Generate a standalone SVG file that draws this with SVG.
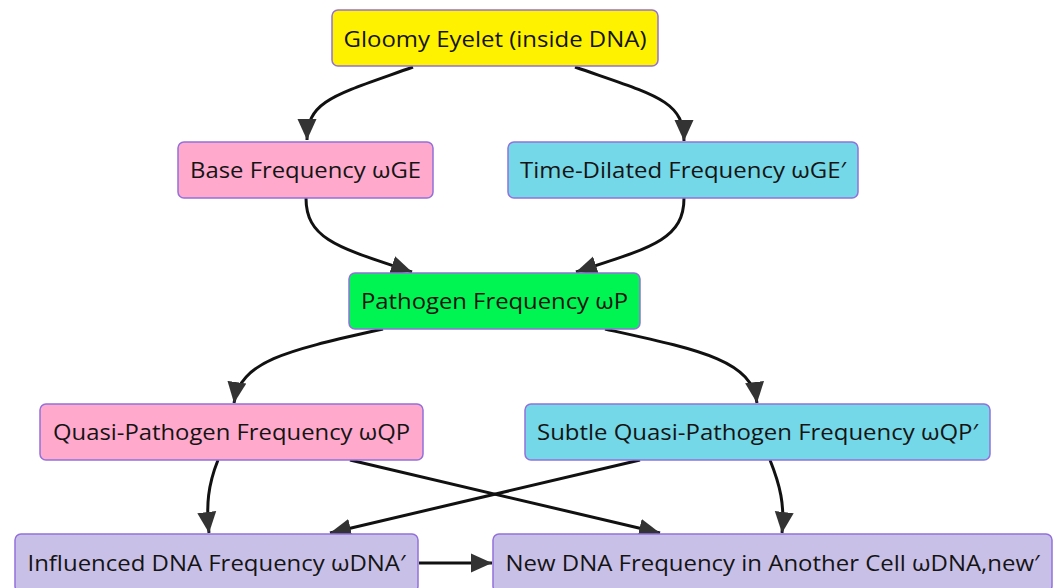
<svg xmlns="http://www.w3.org/2000/svg" width="1056" height="588" viewBox="0 0 1056 588">
  <style>
    .node rect { stroke: #9370DB; stroke-width: 1.5; }
    .node text { font-family: "Open Sans", "Noto Sans", sans-serif; font-size: 22px; fill: #141414; text-anchor: middle; }
    .edge { fill: none; stroke: #111; stroke-width: 3; marker-end: url(#arrow); }
  </style>
  <defs>
    <marker id="arrow" markerUnits="userSpaceOnUse" markerWidth="22" markerHeight="22" viewBox="0 0 22 22" refX="21" refY="11" orient="auto">
      <path d="M0,1.5 L21,11 L0,20.5 Z" fill="#333"/>
    </marker>
  </defs>
  <rect width="1056" height="588" fill="#ffffff"/>

  <g id="connectors">
    <path class="edge" d="M413,67 C335,95 307,100 307,140"/>
    <path class="edge" d="M575,67 C655,95 684,100 684,141"/>
    <path class="edge" d="M306,198 C306,240 340,248 412,272"/>
    <path class="edge" d="M684,198 C684,240 650,248 576,272"/>
    <path class="edge" d="M383,329 C290,350 240,360 234,403"/>
    <path class="edge" d="M605,329 C700,350 752,360 757,403"/>
    <path class="edge" d="M218,460 C208,485 206,505 209,533"/>
    <path class="edge" d="M350,460 L660,533"/>
    <path class="edge" d="M640,460 L330,533"/>
    <path class="edge" d="M770,460 C780,485 785,505 782,533"/>
    <path class="edge" d="M419,563 L492,563"/>
  </g>

  <g id="gloomy" class="node">
    <rect x="332" y="10" width="326" height="56" rx="6" fill="#FFF200"/>
    <text x="495" y="47" textLength="303" lengthAdjust="spacingAndGlyphs">Gloomy Eyelet (inside DNA)</text>
  </g>
  <g id="base" class="node">
    <rect x="178" y="142" width="255" height="56" rx="6" fill="#FFAACC"/>
    <text x="305.5" y="178" textLength="231" lengthAdjust="spacingAndGlyphs">Base Frequency ωGE</text>
  </g>
  <g id="timedilated" class="node">
    <rect x="508" y="142" width="350" height="56" rx="6" fill="#74D8E8"/>
    <text x="683" y="178" textLength="326" lengthAdjust="spacingAndGlyphs">Time-Dilated Frequency ωGE′</text>
  </g>
  <g id="pathogen" class="node">
    <rect x="349" y="273" width="291" height="56" rx="6" fill="#00F552"/>
    <text x="494.5" y="309" textLength="267" lengthAdjust="spacingAndGlyphs">Pathogen Frequency ωP</text>
  </g>
  <g id="quasi" class="node">
    <rect x="40" y="404" width="383" height="56" rx="6" fill="#FFAACC"/>
    <text x="231.5" y="440" textLength="357" lengthAdjust="spacingAndGlyphs">Quasi-Pathogen Frequency ωQP</text>
  </g>
  <g id="subtle" class="node">
    <rect x="525" y="404" width="465" height="56" rx="6" fill="#74D8E8"/>
    <text x="757.5" y="440" textLength="441" lengthAdjust="spacingAndGlyphs">Subtle Quasi-Pathogen Frequency ωQP′</text>
  </g>
  <g id="influenced" class="node">
    <rect x="15" y="534" width="403" height="58" rx="6" fill="#C9C0E8"/>
    <text x="216.5" y="571" textLength="378" lengthAdjust="spacingAndGlyphs">Influenced DNA Frequency ωDNA′</text>
  </g>
  <g id="newdna" class="node">
    <rect x="493" y="534" width="559" height="58" rx="6" fill="#C9C0E8"/>
    <text x="772.5" y="571" textLength="534" lengthAdjust="spacingAndGlyphs">New DNA Frequency in Another Cell ωDNA,new′</text>
  </g>
</svg>
